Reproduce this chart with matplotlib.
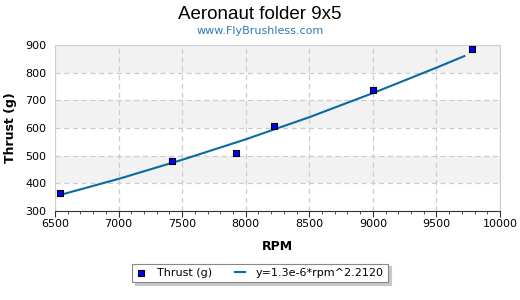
import matplotlib
matplotlib.use("Agg")
import matplotlib.pyplot as plt

rpm = [6539, 7420, 7924, 8223, 9002, 9781]
thrust = [364, 481, 511, 609, 739, 884]

fit_rpm = [6540, 7000, 7500, 8000, 8500, 9000, 9500, 9720]
fit_thrust = [358, 416, 485, 559, 639, 726, 818, 860]

xticks = [6500, 7000, 7500, 8000, 8500, 9000, 9500, 10000]
yticks = [300, 400, 500, 600, 700, 800, 900]

plt.rcParams['font.family'] = ['DejaVu Sans']
fig = plt.figure(figsize=(5.2, 3.0), dpi=100)
ax = fig.add_axes([0.1058, 0.2967, 0.8557, 0.5533])
ax.set_xlim(6500, 10000)
ax.set_ylim(300, 900)
for lo in [400, 600, 800]:
    ax.axhspan(lo, lo + 100, color='#f2f2f2', zorder=0, lw=0)
ax.set_xticks(xticks)
ax.set_yticks(yticks)
ax.set_xticks(range(6600, 10000, 100), minor=True)
ax.grid(True, which='major', color='#cccccc', linestyle=(0, (4, 3)), linewidth=0.9, zorder=1)
ax.tick_params(axis='x', which='major', direction='out', length=4, color='#333333', labelsize=8, pad=2)
ax.tick_params(axis='x', which='minor', direction='out', length=2, color='#333333')
ax.tick_params(axis='y', which='major', length=0, labelsize=8, pad=6)
for s in ax.spines.values():
    s.set_color('#cccccc')
ax.spines['bottom'].set_color('#333333')

ax.plot(fit_rpm, fit_thrust, color='#0a6aa1', lw=1.5, zorder=3, label='y=1.3e-6*rpm^2.2120')
ax.scatter(rpm, thrust, marker='s', s=18, facecolor='#0000ff', edgecolor='black', linewidth=0.8, zorder=4, label='Thrust (g)')

ax.set_xlabel('RPM', fontsize=9, fontweight='bold', labelpad=8)
ax.set_ylabel('Thrust (g)', fontsize=9, fontweight='bold', labelpad=6)

fig.text(0.5, 0.952, 'Aeronaut folder 9x5', ha='center', va='center', fontsize=13.5, family='Liberation Sans')
fig.text(0.5, 0.895, 'www.FlyBrushless.com', ha='center', va='center', fontsize=8, color='#2a7ab8')

handles, labels = ax.get_legend_handles_labels()
leg = fig.legend(handles[::-1], labels[::-1], loc='center', bbox_to_anchor=(0.5, 0.09), ncol=2,
                 fontsize=8, frameon=True, fancybox=False,
                 shadow={'color': '#c8c8c8', 'alpha': 1.0}, edgecolor='#888888',
                 handlelength=0.9, columnspacing=2.0, borderpad=0.4, handletextpad=1.0)
leg.get_frame().set_linewidth(0.8)
fig.savefig('out.png', dpi=100)
